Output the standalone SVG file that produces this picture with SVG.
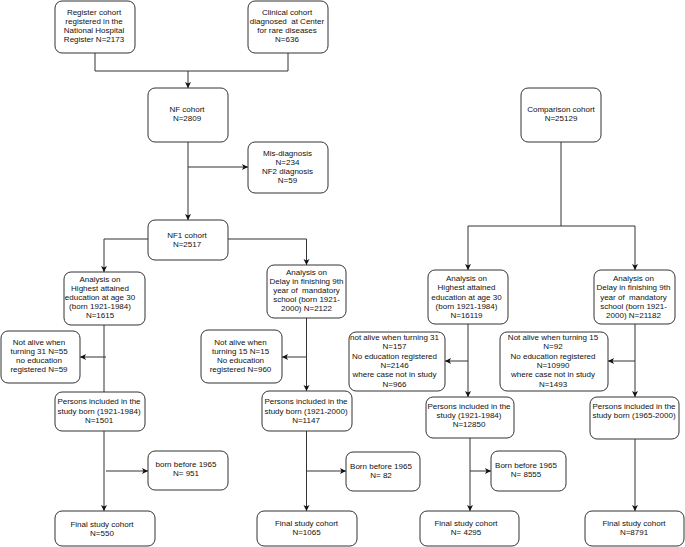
<svg xmlns="http://www.w3.org/2000/svg" width="685" height="547" viewBox="0 0 685 547">
<defs>
<marker id="arr" markerWidth="7" markerHeight="7" refX="6" refY="3" orient="auto" markerUnits="userSpaceOnUse">
<path d="M0,0 L6,3 L0,6 L1.5,3 Z" fill="#111"/>
</marker>
<style>
.box{fill:#fff;stroke:#333;stroke-width:1}
.t{font-family:"Liberation Sans",Arial,sans-serif;font-size:8px;fill:#111;text-anchor:middle}
.c{fill:none;stroke:#333;stroke-width:1}
.a{fill:none;stroke:#333;stroke-width:1;marker-end:url(#arr)}
</style>
</defs>
<rect width="685" height="547" fill="#fff"/>
<g id="connectors">
<path class="c" d="M95,53 V71 H288 V53"/>
<path class="a" d="M188,71 V88"/>
<path class="a" d="M188,142 V220"/>
<path class="a" d="M188,167 H248"/>
<path class="a" d="M148,239 H104 V272"/>
<path class="a" d="M228,239 H306.5 V265"/>
<path class="c" d="M104,325 V392"/>
<path class="a" d="M106,357 H80"/>
<path class="a" d="M306.5,318 V391"/>
<path class="a" d="M306.5,357 H282"/>
<path class="a" d="M104,431 V511"/>
<path class="a" d="M106,471 H148"/>
<path class="a" d="M306.5,431 V511"/>
<path class="a" d="M306.5,471 H346"/>
<path class="c" d="M561,142 V226"/>
<path class="a" d="M468,226 V270"/>
<path class="a" d="M635,226 V270"/>
<path class="c" d="M468,226 H635"/>
<path class="a" d="M468,324 V397"/>
<path class="a" d="M468,361 H445"/>
<path class="a" d="M635,324 V397"/>
<path class="a" d="M635,361 H608"/>
<path class="a" d="M470,438 V511"/>
<path class="a" d="M470,471 H491"/>
<path class="a" d="M635,439 V511"/>
</g>
<g id="register"><rect class="box" x="55" y="1" width="80" height="52" rx="7"/>
<text class="t" x="94"><tspan x="94" y="15">Register cohort</tspan><tspan x="94" y="24">registered in the</tspan><tspan x="94" y="33">National Hospital</tspan><tspan x="94" y="42">Register N=2173</tspan></text></g>
<g id="clinical"><rect class="box" x="248" y="1" width="80" height="52" rx="7"/>
<text class="t" xml:space="preserve"><tspan x="287" y="15">Clinical cohort</tspan><tspan x="287" y="24">diagnosed  at Center</tspan><tspan x="287" y="33">for rare diseases</tspan><tspan x="287" y="42">N=636</tspan></text></g>
<g id="nf"><rect class="box" x="148" y="88" width="80" height="54" rx="7"/>
<text class="t"><tspan x="187" y="112">NF cohort</tspan><tspan x="187" y="121">N=2809</tspan></text></g>
<g id="comparison"><rect class="box" x="521" y="88" width="80" height="54" rx="7"/>
<text class="t"><tspan x="561" y="112">Comparison cohort</tspan><tspan x="561" y="121">N=25129</tspan></text></g>
<g id="misdiag"><rect class="box" x="248" y="142" width="80" height="51" rx="7"/>
<text class="t"><tspan x="287.5" y="156">Mis-diagnosis</tspan><tspan x="287.5" y="165">N=234</tspan><tspan x="287.5" y="174">NF2 diagnosis</tspan><tspan x="287.5" y="183">N=59</tspan></text></g>
<g id="nf1"><rect class="box" x="148" y="220" width="80" height="40" rx="7"/>
<text class="t"><tspan x="187" y="237.5">NF1 cohort</tspan><tspan x="187" y="246.5">N=2517</tspan></text></g>
<g id="analysisL"><rect class="box" x="64" y="272" width="81" height="53" rx="7"/>
<text class="t"><tspan x="100" y="282">Analysis on</tspan><tspan x="100" y="291">Highest attained</tspan><tspan x="100" y="300">education at age 30</tspan><tspan x="100" y="309">(born 1921-1984)</tspan><tspan x="100" y="318">N=1615</tspan></text></g>
<g id="delayNF1"><rect class="box" x="267" y="265" width="79" height="53" rx="7"/>
<text class="t" xml:space="preserve"><tspan x="306.5" y="275">Analysis on</tspan><tspan x="306.5" y="284">Delay in finishing 9th</tspan><tspan x="306.5" y="293">year of  mandatory</tspan><tspan x="306.5" y="302">school (born 1921-</tspan><tspan x="306.5" y="311">2000) N=2122</tspan></text></g>
<g id="analysisM"><rect class="box" x="428" y="270" width="80" height="54" rx="7"/>
<text class="t"><tspan x="466.5" y="281">Analysis on</tspan><tspan x="466.5" y="290.3">Highest attained</tspan><tspan x="466.5" y="299.6">education at age 30</tspan><tspan x="466.5" y="308.9">(born 1921-1984)</tspan><tspan x="466.5" y="318.2">N=16119</tspan></text></g>
<g id="delayComp"><rect class="box" x="594" y="270" width="81" height="54" rx="7"/>
<text class="t" xml:space="preserve"><tspan x="633.5" y="281">Analysis on</tspan><tspan x="633.5" y="290.3">Delay in finishing 9th</tspan><tspan x="633.5" y="299.6">year of  mandatory</tspan><tspan x="633.5" y="308.9">school (born 1921-</tspan><tspan x="633.5" y="318.2">2000) N=21182</tspan></text></g>
<g id="exclL"><rect class="box" x="1" y="331" width="79" height="52" rx="7"/>
<text class="t"><tspan x="39" y="345">Not alive when</tspan><tspan x="39" y="354">turning 31 N=55</tspan><tspan x="39" y="363">no education</tspan><tspan x="39" y="372">registered N=59</tspan></text></g>
<g id="exclNF1"><rect class="box" x="201" y="330" width="81" height="53" rx="7"/>
<text class="t"><tspan x="240.5" y="345">Not alive when</tspan><tspan x="240.5" y="354">turning 15 N=15</tspan><tspan x="240.5" y="363">No education</tspan><tspan x="240.5" y="372">registered N=960</tspan></text></g>
<g id="exclM"><rect class="box" x="349" y="332" width="96" height="59" rx="7"/>
<text class="t"><tspan x="394.5" y="340">not alive when turning 31</tspan><tspan x="394.5" y="349.3">N=157</tspan><tspan x="394.5" y="358.6">No education registered</tspan><tspan x="394.5" y="367.9">N=2146</tspan><tspan x="394.5" y="377.2">where case not in study</tspan><tspan x="394.5" y="386.5">N=966</tspan></text></g>
<g id="exclR"><rect class="box" x="500" y="332" width="108" height="59" rx="7"/>
<text class="t"><tspan x="553" y="340">Not alive when turning 15</tspan><tspan x="553" y="349.3">N=92</tspan><tspan x="553" y="358.6">No education registered</tspan><tspan x="553" y="367.9">N=10990</tspan><tspan x="553" y="377.2">where case not in study</tspan><tspan x="553" y="386.5">N=1493</tspan></text></g>
<g id="personsL"><rect class="box" x="55" y="392" width="90" height="39" rx="7"/>
<text class="t"><tspan x="99" y="404">Persons included in the</tspan><tspan x="99" y="413.5">study born (1921-1984)</tspan><tspan x="99" y="422.5">N=1501</tspan></text></g>
<g id="personsNF1"><rect class="box" x="262" y="391" width="90" height="40" rx="7"/>
<text class="t"><tspan x="306" y="404">Persons included in the</tspan><tspan x="306" y="413.5">study born (1921-2000)</tspan><tspan x="306" y="422.5">N=1147</tspan></text></g>
<g id="personsM"><rect class="box" x="426" y="397" width="88" height="41" rx="7"/>
<text class="t"><tspan x="469" y="409">Persons included in the</tspan><tspan x="469" y="418">study (1921-1984)</tspan><tspan x="469" y="427">N=12850</tspan></text></g>
<g id="personsR"><rect class="box" x="590" y="397" width="89" height="42" rx="7"/>
<text class="t"><tspan x="634" y="409">Persons included in the</tspan><tspan x="634" y="418">study born (1965-2000)</tspan></text></g>
<g id="bornL"><rect class="box" x="148" y="451" width="80" height="39" rx="7"/>
<text class="t"><tspan x="186" y="467">born before 1965</tspan><tspan x="186" y="476">N= 951</tspan></text></g>
<g id="bornNF1"><rect class="box" x="346" y="452" width="74" height="39" rx="7"/>
<text class="t"><tspan x="381" y="469">Born before 1965</tspan><tspan x="381" y="478">N= 82</tspan></text></g>
<g id="bornM"><rect class="box" x="491" y="451" width="75" height="40" rx="7"/>
<text class="t"><tspan x="526" y="468">Born before 1965</tspan><tspan x="526" y="477">N= 8555</tspan></text></g>
<g id="finalL"><rect class="box" x="55" y="511" width="100" height="35" rx="7"/>
<text class="t"><tspan x="102" y="526.5">Final study cohort</tspan><tspan x="102" y="535.5">N=550</tspan></text></g>
<g id="finalNF1"><rect class="box" x="257" y="511" width="100" height="35" rx="7"/>
<text class="t"><tspan x="306.5" y="526">Final study cohort</tspan><tspan x="306.5" y="535">N=1065</tspan></text></g>
<g id="finalM"><rect class="box" x="420" y="511" width="99" height="35" rx="7"/>
<text class="t"><tspan x="466" y="526">Final study cohort</tspan><tspan x="466" y="535">N= 4295</tspan></text></g>
<g id="finalR"><rect class="box" x="585" y="511" width="99" height="35" rx="7"/>
<text class="t"><tspan x="634" y="526">Final study cohort</tspan><tspan x="634" y="535">N=8791</tspan></text></g>
</svg>
